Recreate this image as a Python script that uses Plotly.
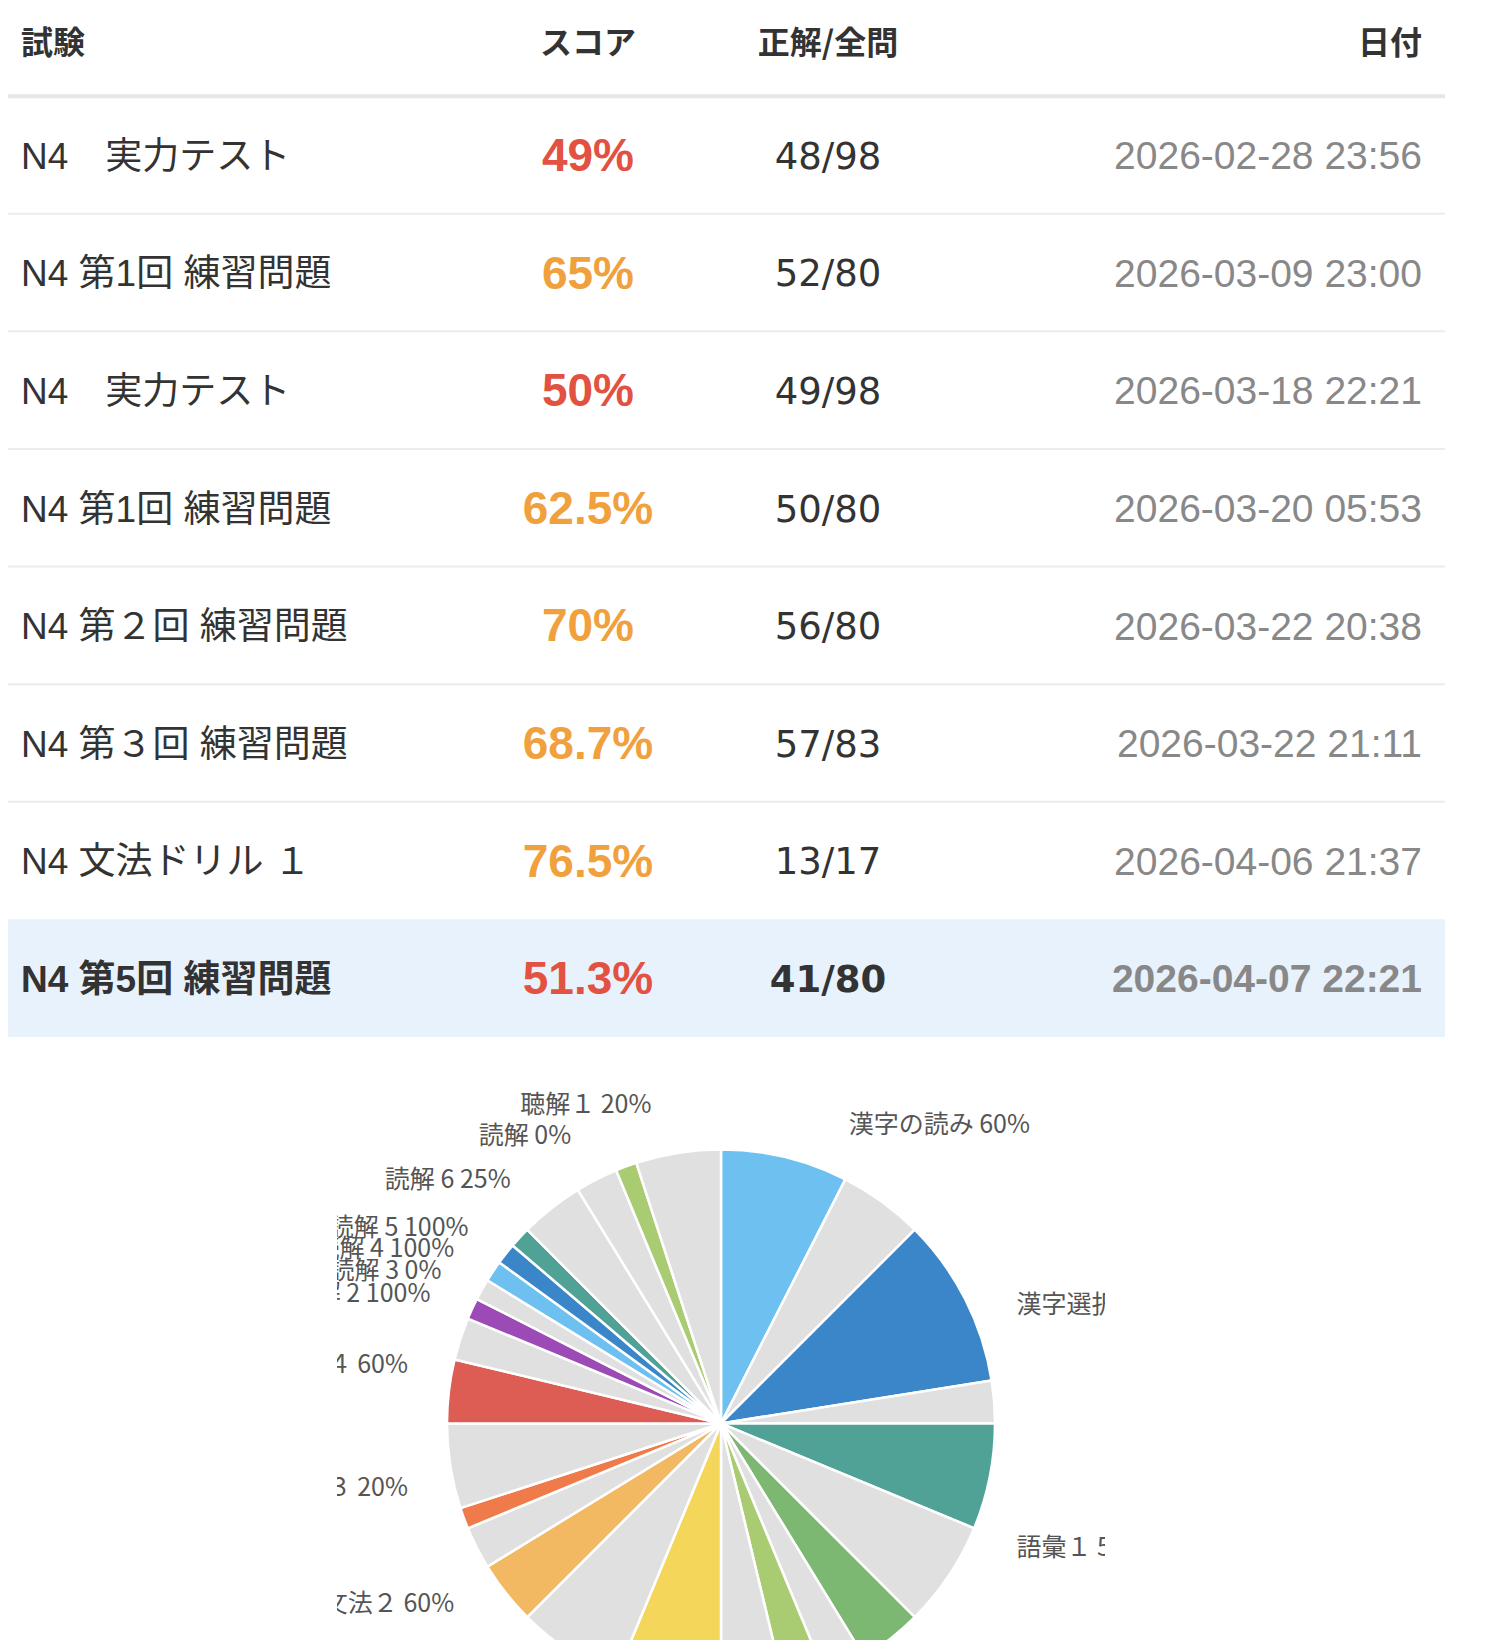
import plotly.graph_objects as go

# ---------------- data ----------------
exam_names = ["N4　実力テスト", "N4 第1回 練習問題", "N4　実力テスト", "N4 第1回 練習問題",
              "N4 第２回 練習問題", "N4 第３回 練習問題", "N4 文法ドリル １", "N4 第5回 練習問題"]
scores = [49, 65, 50, 62.5, 70, 68.7, 76.5, 51.3]
correct_counts = [48, 52, 49, 50, 56, 57, 13, 41]
question_counts = [98, 80, 98, 80, 80, 83, 17, 80]
dates = ["2026-02-28 23:56", "2026-03-09 23:00", "2026-03-18 22:21", "2026-03-20 05:53",
         "2026-03-22 20:38", "2026-03-22 21:11", "2026-04-06 21:37", "2026-04-07 22:21"]
headers = ["試験", "スコア", "正解/全問", "日付"]
highlight_row = 7

sections = ["漢字の読み", "漢字選択", "語彙１", "語彙２", "語彙３", "文法１", "文法２", "文法３",
            "文法４", "読解 2", "読解 3", "読解 4", "読解 5", "読解 6", "読解", "聴解１"]
section_correct = [6, 8, 5, 3, 2, 5, 3, 1, 3, 1, 0, 1, 1, 1, 0, 1]
section_total = [10, 10, 10, 5, 5, 10, 5, 5, 5, 1, 1, 1, 1, 4, 2, 5]

# ---------------- style ----------------
palette = ["#6dc0f0", "#3b86c8", "#50a297", "#7cb872", "#a9cc72", "#f4d65a",
           "#f2b862", "#ef7a4a", "#dd5c54", "#9c4bb6", "#c9c9c9"]
wrong_color = "#e0e0e0"
RED, ORANGE = "#e25141", "#f0a03c"
LATIN = "Liberation Sans, Noto Sans CJK JP, sans-serif"
WIDE = "DejaVu Sans, Noto Sans CJK JP, sans-serif"
CJK = "Noto Sans CJK JP, sans-serif"

OFF = 8                      # body margin of the html page
W, H = 1450, 1760
H_EFF = 1735                 # height the page actually renders the figure at
ROW_H = 117.4
HEAD_Y = 96                  # header bottom line (reference px)
TABLE_BOTTOM = 1040
COL_X = [21, 588, 828, 1422]
TEXT_DY = 4.5 / ROW_H        # small downward nudge of the text baseline


def u(py):                   # reference pixel y -> row units
    return (py - HEAD_Y) / ROW_H - 0.5


def paper_y(py):             # reference pixel y -> paper fraction
    return 1 - (py - OFF) / H_EFF


rows = list(range(len(exam_names)))
row_y = [i + TEXT_DY for i in rows]
bold = lambda s, i: f"<b>{s}</b>" if i == highlight_row else s

fig = go.Figure()

# header
fig.add_trace(go.Scatter(
    x=COL_X, y=[u(45.5)] * 4, mode="text",
    text=[f"<b>{h}</b>" for h in headers],
    textposition=["middle right", "middle center", "middle center", "middle left"],
    textfont=dict(size=32, color="#333333", family=CJK),
    hoverinfo="skip", showlegend=False))

# exam names
fig.add_trace(go.Scatter(
    x=[COL_X[0]] * len(rows), y=row_y, mode="text",
    text=[bold(n, i) for i, n in enumerate(exam_names)],
    textposition="middle right",
    textfont=dict(size=37, color="#333333", family=LATIN),
    hoverinfo="skip", showlegend=False))

# scores
fig.add_trace(go.Scatter(
    x=[COL_X[1]] * len(rows), y=row_y, mode="text",
    text=[f"<b>{s:g}%</b>" for s in scores],
    textposition="middle center",
    textfont=dict(size=46, color=[RED if s < 60 else ORANGE for s in scores], family=LATIN),
    hoverinfo="skip", showlegend=False))

# correct / total
fig.add_trace(go.Scatter(
    x=[COL_X[2]] * len(rows), y=row_y, mode="text",
    text=[bold(f"{c}/{t}", i) for i, (c, t) in enumerate(zip(correct_counts, question_counts))],
    textposition="middle center",
    textfont=dict(size=37, color="#333333", family=WIDE),
    hoverinfo="skip", showlegend=False))

# dates
fig.add_trace(go.Scatter(
    x=[COL_X[3]] * len(rows), y=row_y, mode="text",
    text=[bold(d, i) for i, d in enumerate(dates)],
    textposition="middle left",
    textfont=dict(size=39, color="#888888", family=LATIN),
    hoverinfo="skip", showlegend=False))

# ---------------- pie ----------------
cx, cy = 721 - OFF, 1421
r_pie, r_label = 274, 310


def pie_domain(r):
    return dict(x=[(cx - r) / W, (cx + r) / W], y=[paper_y(cy + r), paper_y(cy - r)])


section_labels = [f"{n} {round(100 * c / t)}%" for n, c, t in
                  zip(sections, section_correct, section_total)]

# label rings: invisible slices (one per section) carrying the labels at each section's middle;
# labels are split over two rings so that neighbouring labels are not pushed apart
for parity in (0, 1):
    fig.add_trace(go.Pie(
        values=section_total, labels=sections,
        text=[t if i % 2 == parity else "" for i, t in enumerate(section_labels)],
        textposition=["outside" if i % 2 == parity else "none" for i in range(len(sections))],
        textinfo="text", sort=False, direction="clockwise", rotation=0,
        marker=dict(colors=["rgba(0,0,0,0)"] * len(sections), line=dict(width=0)),
        outsidetextfont=dict(size=25, color="#555555", family=CJK),
        domain=pie_domain(r_label), hoverinfo="skip", showlegend=False))

# visible pie: coloured correct part + grey wrong part per section
p_vals, p_labels, p_colors = [], [], []
for i, (name, c, t) in enumerate(zip(sections, section_correct, section_total)):
    if c > 0:
        p_vals.append(c); p_labels.append(f"{name} 正解"); p_colors.append(palette[i % len(palette)])
    if t - c > 0:
        p_vals.append(t - c); p_labels.append(f"{name} 不正解"); p_colors.append(wrong_color)

fig.add_trace(go.Pie(
    values=p_vals, labels=p_labels, textinfo="none", sort=False,
    direction="clockwise", rotation=0,
    marker=dict(colors=p_colors, line=dict(color="white", width=2.5)),
    domain=pie_domain(r_pie), hoverinfo="skip", showlegend=False))

# ---------------- table decorations ----------------
shapes = [
    dict(type="rect", xref="x", yref="y", x0=0, x1=1445, y0=highlight_row - 0.5, y1=highlight_row + 0.5,
         fillcolor="#e8f2fc", line=dict(width=0), layer="below"),
    dict(type="line", xref="x", yref="y", x0=0, x1=1445, y0=-0.5, y1=-0.5,
         line=dict(color="#e6e6e6", width=4), layer="below"),
]
for i in rows[:-2]:
    shapes.append(dict(type="line", xref="x", yref="y", x0=0, x1=1445, y0=i + 0.5, y1=i + 0.5,
                       line=dict(color="#ececec", width=2), layer="below"))
# chart container clipping (labels overflowing the chart box are hidden)
box_top = paper_y(TABLE_BOTTOM)
shapes += [
    dict(type="rect", xref="paper", yref="paper", x0=0, x1=(337 - OFF) / W, y0=0, y1=box_top,
         fillcolor="white", line=dict(width=0), layer="above"),
    dict(type="rect", xref="paper", yref="paper", x0=(1105 - OFF) / W, x1=1, y0=0, y1=box_top,
         fillcolor="white", line=dict(width=0), layer="above"),
]

fig.update_layout(
    width=W, height=H, margin=dict(l=0, r=0, t=0, b=0),
    paper_bgcolor="white", plot_bgcolor="white", showlegend=False,
    xaxis=dict(range=[OFF, OFF + W], visible=False, fixedrange=True),
    yaxis=dict(range=[u(TABLE_BOTTOM), u(OFF)], domain=[paper_y(TABLE_BOTTOM), 1],
               visible=False, fixedrange=True),
    shapes=shapes,
)

fig.write_html("out.html")
